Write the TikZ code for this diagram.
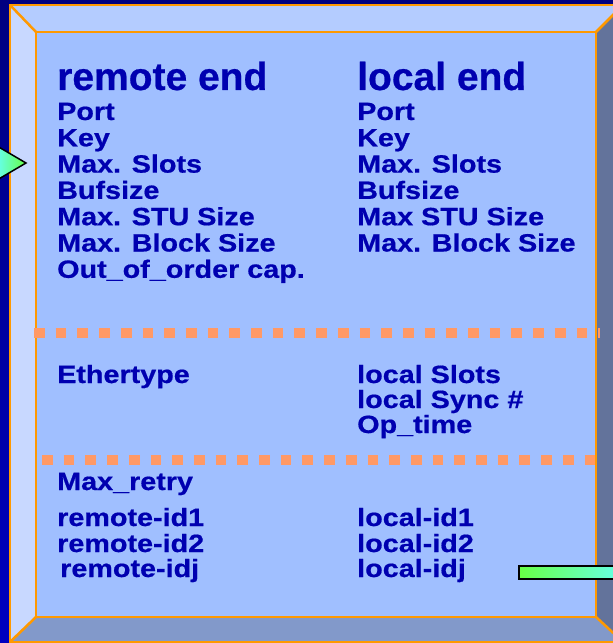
\documentclass[tikz,border=0pt]{standalone}
\usepackage{fontspec}
\setmainfont{Liberation Sans}
\newfontfamily\headfont{Liberation Sans}[FakeBold=0.6]
\newfontfamily\itemfont{Liberation Sans}[FakeStretch=1.15,FakeBold=0.6]
\usetikzlibrary{shadings}
\definecolor{navytop}{HTML}{000080}
\definecolor{navybot}{HTML}{0000C0}
\definecolor{faceblue}{HTML}{A0BFFF}
\definecolor{bevtop}{HTML}{B4CCFF}
\definecolor{bevleft}{HTML}{C8D8FF}
\definecolor{bevright}{HTML}{63739B}
\definecolor{bevbot}{HTML}{8299CA}
\definecolor{rim}{HTML}{FF9900}
\definecolor{dots}{HTML}{FF9966}
\definecolor{ink}{HTML}{0000B0}
\definecolor{arrgreen}{HTML}{66FF44}
\definecolor{arrcyan}{HTML}{66FFEE}
\tikzset{
  title/.style={anchor=base west, inner sep=0pt, text=ink,
    font=\headfont\fontsize{39bp}{39bp}\selectfont\bfseries},
  entry/.style={anchor=base west, inner sep=0pt, text=ink,
    font=\itemfont\fontsize{25bp}{25bp}\selectfont\bfseries},
  rimline/.style={draw=rim, line width=2.5bp},
  dotline/.style={draw=dots, line width=10.5bp, dash pattern=on 10.7bp off 11bp},
}
\begin{document}
\begin{tikzpicture}[x=1bp, y=-1bp]
\useasboundingbox (0,0) rectangle (613,643);
% dark background
\shade[top color=navytop, bottom color=navybot] (0,0) rectangle (613,643);

% bevelled frame
\fill[bevtop]   (10,5) -- (623,5) -- (596,32) -- (36,32) -- cycle;
\fill[bevleft]  (10,5) -- (36,32) -- (36,617) -- (10,642) -- cycle;
\fill[bevright] (623,5) -- (623,642) -- (596,617) -- (596,32) -- cycle;
\fill[bevbot]   (10,642) -- (36,617) -- (596,617) -- (623,642) -- cycle;
\fill[faceblue] (36,32) rectangle (596,617);
\draw[rimline] (10,5) rectangle (623,642);
\draw[rimline] (36,32) rectangle (596,617);
\draw[rimline] (10,5) -- (36,32);
\draw[rimline] (623,5) -- (596,32);
\draw[rimline] (10,642) -- (36,617);
\draw[rimline] (623,642) -- (596,617);

% section separators
\draw[dotline] (34,333) -- (600,333);
\draw[dotline] (42,460) -- (600,460);

% headings
\node[title] (remhead) at (57,90) {remote end};
\node[title] (lochead) at (357,90) {local end};

% parameters of the remote end
\foreach \txt [count=\i from 0] in {Port, Key, Max. Slots, Bufsize,
    Max. STU Size, Max. Block Size, Out\_of\_order cap.}
  \node[entry] (rem\i) at (57,120+26.3*\i) {\txt};

% parameters of the local end
\foreach \txt [count=\i from 0] in {Port, Key, Max. Slots, Bufsize,
    Max STU Size, Max. Block Size}
  \node[entry] (loc\i) at (357,120+26.3*\i) {\txt};

% link state
\node[entry] (ether) at (57,383) {Ethertype};
\node[entry] (lslots) at (357,383) {local Slots};
\node[entry] (lsync) at (357,408) {local Sync \#};
\node[entry] (optime) at (357,433) {Op\_time};

% retries and identifiers
\node[entry] (retry) at (57,490) {Max\_retry};
\node[entry] (rid1) at (57,526) {remote-id1};
\node[entry] (rid2) at (57,552) {remote-id2};
\node[entry] (ridj) at (60,577) {remote-idj};
\node[entry] (lid1) at (357,526) {local-id1};
\node[entry] (lid2) at (357,552) {local-id2};
\node[entry] (lidj) at (357,577) {local-idj};

% incoming arrow head on the left
\filldraw[draw=black, line width=1.5bp, left color=arrcyan, right color=arrgreen]
  (-3,146) -- (26,163) -- (-3,180) -- cycle;

% outgoing bar at the lower right
\filldraw[draw=black, line width=2bp, left color=arrgreen, right color=arrcyan]
  (519,566) rectangle (625,579);
\end{tikzpicture}
\end{document}
